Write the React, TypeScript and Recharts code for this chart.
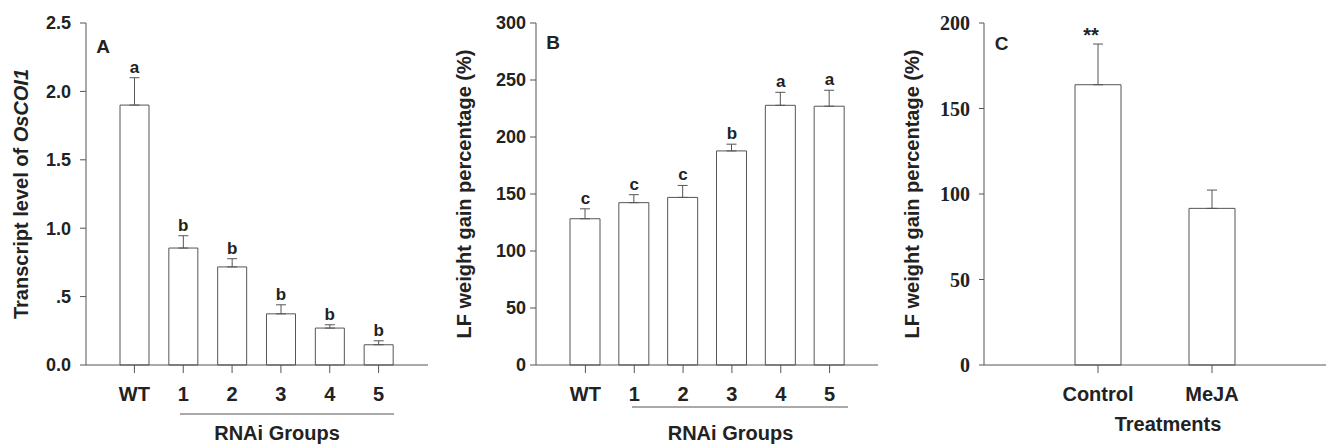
import {
  ComposedChart, Bar, Line, XAxis, YAxis, ErrorBar, LabelList,
} from 'recharts';

// ---------------------------------------------------------------------------
// Data
// ---------------------------------------------------------------------------

const rnaiGroups = ['WT', '1', '2', '3', '4', '5'];

const transcriptMean    = [1.90, 0.855, 0.717, 0.374, 0.27, 0.148];
const transcriptErr     = [0.20, 0.09, 0.06, 0.066, 0.024, 0.029];
const transcriptLetters = ['a', 'b', 'b', 'b', 'b', 'b'];
const transcriptTicks   = [0, 0.5, 1.0, 1.5, 2.0, 2.5];

const weightMean    = [128.3, 142.4, 147.0, 187.8, 227.8, 227.0];
const weightErr     = [8.7, 7.0, 10.5, 5.9, 11.4, 14.0];
const weightLetters = ['c', 'c', 'c', 'b', 'a', 'a'];
const weightTicks   = [0, 50, 100, 150, 200, 250, 300];

const treatments    = ['Control', 'MeJA'];
const treatMean     = [163.9, 91.6];
const treatErr      = [23.8, 10.7];
const treatTicks    = [0, 50, 100, 150, 200];

// ---------------------------------------------------------------------------
// Styling
// ---------------------------------------------------------------------------

const SANS  = "Arial, 'Liberation Sans', sans-serif";
const SERIF = "'Times New Roman', 'Liberation Serif', serif";
const LINE  = '#555555';
const INK   = '#222222';

type Row = { name: string; mean: number; err: [number, number]; hi: number; letter: string };

function rows(names: string[], mean: number[], err: number[], letters: string[]): Row[] {
  return names.map((name, i) => ({
    name,
    mean: mean[i],
    err: [0, err[i]],
    hi: mean[i] + err[i],
    letter: letters[i],
  }));
}

interface PanelProps {
  left: number;
  width: number;
  marginLeft: number;
  marginRight: number;
  data: Row[];
  ticks: number[];
  barSize: number;
  pad: { left: number; right: number };
  tickFmt?: (v: number) => string;
  yFont: string;
  yTickMargin: number;
  yTickSize: number;
}

// x axis keeps its default 30px height, so bottom margin = 444 - 365 - 30
function Panel({
  left, width, marginLeft, marginRight, data, ticks, barSize, pad,
  tickFmt, yFont, yTickMargin, yTickSize,
}: PanelProps) {
  const domain: [number, number] = [ticks[0], ticks[ticks.length - 1]];
  return (
    <div style={{ position: 'absolute', left, top: 0 }}>
      <ComposedChart
        width={width}
        height={444}
        data={data}
        margin={{ top: 23, right: marginRight, bottom: 49, left: marginLeft }}
      >
        <XAxis
          dataKey="name"
          padding={pad}
          axisLine={{ stroke: LINE }}
          tickLine={{ stroke: LINE }}
          tickSize={8}
          tickMargin={14}
          tick={{ fill: INK, fontSize: 20, fontWeight: 700, fontFamily: SANS }}
          interval={0}
        />
        <XAxis
          xAxisId="top"
          dataKey="name"
          orientation="top"
          height={0}
          tick={false}
          tickLine={false}
          axisLine={{ stroke: LINE }}
        />
        <YAxis
          width={60}
          domain={domain}
          ticks={ticks}
          tickFormatter={tickFmt}
          axisLine={{ stroke: LINE }}
          tickLine={{ stroke: LINE }}
          tickSize={yTickSize}
          tickMargin={yTickMargin}
          tick={{ fill: INK, fontSize: yFont === SERIF ? 20 : 18, fontWeight: 700, fontFamily: yFont }}
          interval={0}
        />
        <YAxis
          yAxisId="right"
          orientation="right"
          width={0}
          domain={domain}
          tick={false}
          tickLine={false}
          axisLine={{ stroke: LINE }}
        />
        <Bar
          dataKey="mean"
          barSize={barSize}
          fill="#ffffff"
          stroke={LINE}
          strokeWidth={1}
          isAnimationActive={false}
        >
          <ErrorBar dataKey="err" width={5} stroke={LINE} strokeWidth={1} />
        </Bar>
        <Line
          dataKey="hi"
          stroke="none"
          dot={false}
          activeDot={false}
          isAnimationActive={false}
        >
          <LabelList
            dataKey="letter"
            position="top"
            offset={5}
            fill={INK}
            fontSize={17}
            fontWeight={700}
            fontFamily={SANS}
          />
        </Line>
      </ComposedChart>
    </div>
  );
}

export default function App() {
  const dataA = rows(rnaiGroups, transcriptMean, transcriptErr, transcriptLetters);
  const dataB = rows(rnaiGroups, weightMean, weightErr, weightLetters);
  const dataC = rows(treatments, treatMean, treatErr, ['', '']);

  const fmtA = (v: number) => (v === 0.5 ? '.5' : v.toFixed(1));

  const title = { fill: INK, fontSize: 20, fontWeight: 700, fontFamily: SANS } as const;

  return (
    <div style={{ position: 'absolute', left: 0, top: 0, width: 1327, height: 444, background: '#fff', overflow: 'hidden' }}>
      <Panel
        left={0} width={440} marginLeft={26} marginRight={12}
        data={dataA} ticks={transcriptTicks} barSize={29}
        pad={{ left: 24, right: 25 }} tickFmt={fmtA}
        yFont={SANS} yTickMargin={9} yTickSize={6}
      />
      <Panel
        left={450} width={440} marginLeft={26} marginRight={12}
        data={dataB} ticks={weightTicks} barSize={30}
        pad={{ left: 25, right: 24 }}
        yFont={SANS} yTickMargin={4} yTickSize={6}
      />
      <Panel
        left={880} width={447} marginLeft={44} marginRight={1}
        data={dataC} ticks={treatTicks} barSize={46}
        pad={{ left: 57, right: 57 }}
        yFont={SERIF} yTickMargin={9} yTickSize={5}
      />

      {/* titles, panel letters, group underlines */}
      <svg width={1327} height={444} style={{ position: 'absolute', left: 0, top: 0, pointerEvents: 'none' }}>
        <text transform="translate(28,194) rotate(-90)" textAnchor="middle" {...title}>
          Transcript level of <tspan fontStyle="italic">OsCOI1</tspan>
        </text>
        <text transform="translate(471,194) rotate(-90)" textAnchor="middle" {...title}>
          LF weight gain percentage (%)
        </text>
        <text transform="translate(919,194) rotate(-90)" textAnchor="middle" {...title}>
          LF weight gain percentage (%)
        </text>

        <text x={103} y={53} textAnchor="middle" {...title} fontSize={19}>A</text>
        <text x={553} y={48.5} textAnchor="middle" {...title} fontSize={19}>B</text>
        <text x={1001.5} y={50} textAnchor="middle" {...title} fontSize={19}>C</text>
        <text x={1091} y={42} textAnchor="middle" {...title}>**</text>

        <line x1={180} y1={414} x2={394} y2={414} stroke={LINE} strokeWidth={1} />
        <text x={277} y={439.5} textAnchor="middle" {...title}>RNAi Groups</text>
        <line x1={632} y1={407} x2={848} y2={407} stroke={LINE} strokeWidth={1} />
        <text x={730.5} y={439.5} textAnchor="middle" {...title}>RNAi Groups</text>
        <text x={1168} y={431} textAnchor="middle" {...title}>Treatments</text>
      </svg>
    </div>
  );
}
